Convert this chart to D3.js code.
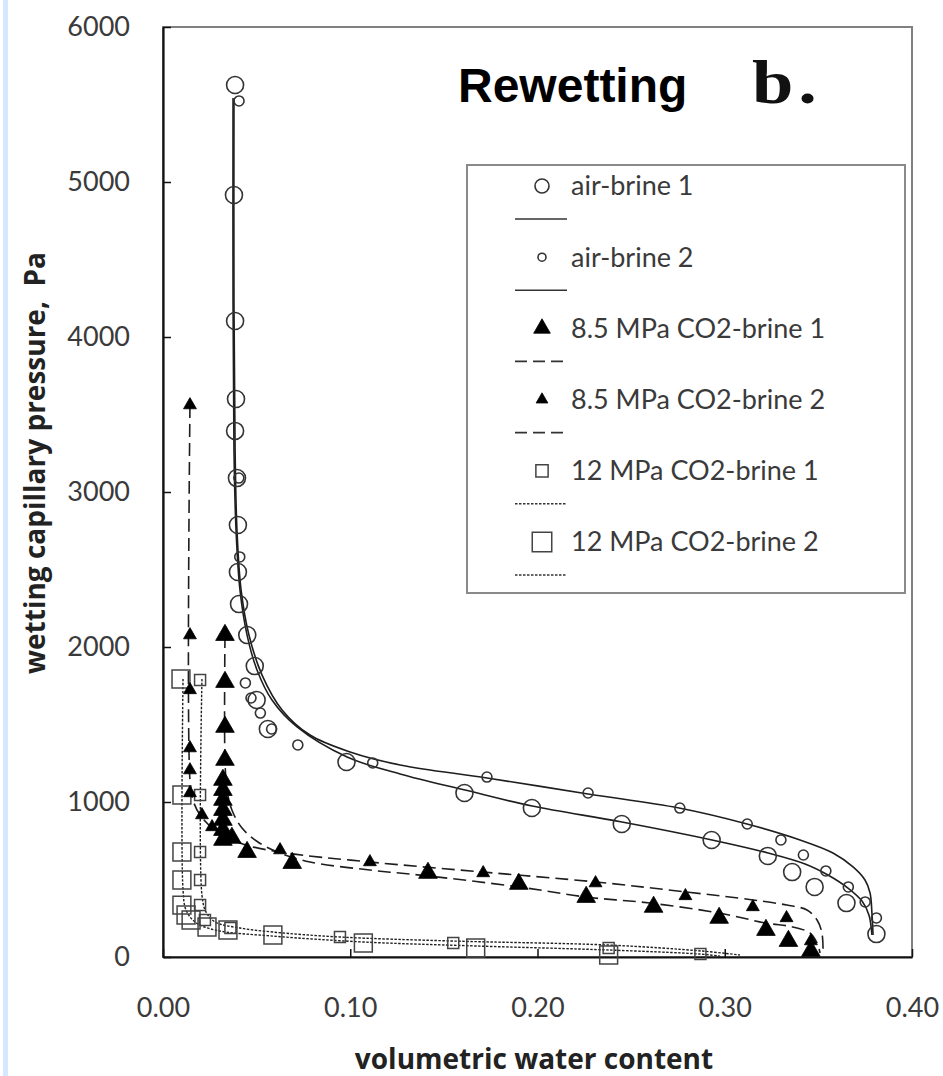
<!DOCTYPE html>
<html lang="en">
<head>
  <meta charset="UTF-8">
  <title>Rewetting b.</title>
  <script src="https://d3js.org/d3.v7.min.js"></script>
  <style>
    body { margin: 0; background: #fff; }
    .tick text { font-family: Lato, "Open Sans", sans-serif; font-size: 27px; fill: #3a3a3a; }
    .axis path, .axis line { stroke: #111; }
    .legend text { font-family: Lato, "Open Sans", sans-serif; font-size: 27px; fill: #3a3a3a; }
    .axis-title { font-family: "Open Sans", Lato, sans-serif; font-weight: bold; font-size: 28px; fill: #222; }
  </style>
</head>
<body>
  <svg width="943" height="1076"></svg>

  <script>
    // measured points, [water content, pressure Pa]
    const airBrine1 = [[0.0385,5626],[0.0379,4916],[0.0385,4103],[0.039,3600],[0.0385,3394],[0.0395,3090],
      [0.040,2787],[0.040,2484],[0.0406,2277],[0.045,2077],[0.049,1877],[0.050,1658],[0.056,1471],
      [0.098,1258],[0.161,1058],[0.197,961],[0.245,858],[0.293,755],[0.323,652],[0.336,548],
      [0.348,452],[0.365,348],[0.381,148]];
    const airBrine2 = [[0.0406,5523],[0.0405,3090],[0.041,2581],[0.044,1768],[0.047,1671],[0.052,1574],
      [0.058,1471],[0.072,1368],[0.112,1252],[0.173,1161],[0.227,1058],[0.276,961],[0.312,858],
      [0.330,755],[0.342,658],[0.354,555],[0.366,452],[0.375,355],[0.381,252]];
    const co2_85_1 = [[0.0331,2077],[0.0331,1774],[0.0331,1484],[0.0331,1271],[0.032,1142],[0.032,1077],
      [0.032,1013],[0.032,948],[0.032,884],[0.032,819],[0.032,755],[0.0368,768],[0.0449,677],
      [0.069,606],[0.1415,542],[0.190,471],[0.226,387],[0.262,323],[0.297,252],[0.322,174],
      [0.334,103],[0.346,39]];
    const co2_85_2 = [[0.0144,3561],[0.0144,2077],[0.0144,1723],[0.0144,1348],[0.0144,1206],[0.0144,1058],
      [0.0208,916],[0.0262,839],[0.0625,690],[0.1105,613],[0.171,542],[0.231,477],[0.279,394],
      [0.315,323],[0.333,252],[0.346,103]];
    const co2_12_1 = [[0.0198,1787],[0.0198,1045],[0.0198,677],[0.0198,497],[0.0198,335],[0.0224,239],
      [0.036,187],[0.0945,129],[0.155,90],[0.238,58],[0.287,19]];
    const co2_12_2 = [[0.0096,1794],[0.0101,1045],[0.0101,677],[0.0101,497],[0.0101,335],[0.0123,271],
      [0.015,239],[0.0235,194],[0.0347,174],[0.0587,142],[0.107,90],[0.167,58],[0.238,13]];

    // fitted curves
    const fitAir1 = [[0.0374,5542],[0.0374,4239],[0.0379,3271],[0.039,2755],[0.0411,2368],[0.0449,2077],
      [0.0502,1852],[0.0582,1658],[0.0716,1484],[0.0983,1290],[0.1266,1181],[0.1613,1077],[0.1971,974],
      [0.2451,871],[0.2932,755],[0.3231,671],[0.3429,600],[0.3551,529],[0.3658,445],[0.3733,361],
      [0.377,271],[0.3786,142]];
    const fitAir2 = [[0.0379,5529],[0.0379,4239],[0.0385,3271],[0.0395,2755],[0.0417,2368],[0.0459,2077],
      [0.0529,1819],[0.0636,1594],[0.0785,1432],[0.0999,1323],[0.1266,1239],[0.173,1155],[0.227,1052],
      [0.2756,961],[0.3119,858],[0.3402,755],[0.3578,671],[0.3685,581],[0.3749,497],[0.3776,413],
      [0.3786,284],[0.3792,142]];
    const fit85_1 = [[0.0331,2077],[0.0331,1271],[0.0342,1077],[0.0368,948],[0.0422,832],[0.0507,742],
      [0.0625,671],[0.0785,613],[0.1105,561],[0.1415,523],[0.1901,452],[0.2259,387],[0.2601,348],
      [0.2969,284],[0.322,219],[0.3364,194],[0.3455,155],[0.3493,90],[0.3509,26]];
    const fit85_2 = [[0.0144,3561],[0.0144,1142],[0.016,1013],[0.0198,916],[0.0278,819],[0.0411,735],
      [0.0625,677],[0.1105,613],[0.1709,548],[0.2312,484],[0.2798,419],[0.3151,368],[0.3332,335],
      [0.3439,303],[0.3493,239],[0.3519,155],[0.3525,45]];
    const fit12_1 = [[0.0208,1794],[0.0208,400],[0.023,290],[0.0278,226],[0.0411,187],[0.0587,161],
      [0.0945,129],[0.1549,103],[0.2382,77],[0.2873,39],[0.3081,13]];
    const fit12_2 = [[0.0107,1794],[0.0107,432],[0.0123,303],[0.0171,226],[0.0278,174],[0.0587,135],
      [0.1068,97],[0.1672,71],[0.2382,45],[0.2868,19],[0.2975,6]];

    const legendLabels = ["air-brine 1", "air-brine 2", "8.5 MPa CO2-brine 1", "8.5 MPa CO2-brine 2",
      "12 MPa CO2-brine 1", "12 MPa CO2-brine 2"];
    const xTicks = [0, 0.1, 0.2, 0.3, 0.4];
    const yTicks = [0, 1000, 2000, 3000, 4000, 5000, 6000];

    const margin = {left: 163, top: 27, right: 31, bottom: 119};
    const width = 943 - margin.left - margin.right;
    const height = 1076 - margin.top - margin.bottom;

    const svg = d3.select("svg");

    // pale blue edge on the left
    svg.append("rect").attr("x", 3).attr("y", 0).attr("width", 5).attr("height", 1076)
        .attr("fill", "#d6e8ff");

    const g = svg.append("g").attr("transform", `translate(${margin.left},${margin.top})`);

    const x = d3.scaleLinear().domain([0, 0.4]).range([0, width]);
    const y = d3.scaleLinear().domain([0, 6000]).range([height, 0]);

    // frame top/right
    g.append("rect").attr("width", width).attr("height", height)
        .attr("fill", "none").attr("stroke", "#808080").attr("stroke-width", 2);

    g.append("g").attr("class", "axis")
        .call(d3.axisLeft(y).tickValues(yTicks).tickFormat(d3.format("d"))
          .tickSize(-8).tickSizeOuter(0).tickPadding(33))
        .call(a => a.select(".domain").attr("stroke-width", 2.2))
        .call(a => a.selectAll(".tick line").attr("stroke-width", 1.5));

    g.append("g").attr("class", "axis").attr("transform", `translate(0,${height})`)
        .call(d3.axisBottom(x).tickValues(xTicks).tickFormat(d3.format(".2f"))
          .tickSize(-8).tickSizeOuter(0).tickPadding(41))
        .call(a => a.select(".domain").attr("stroke-width", 2.2))
        .call(a => a.selectAll(".tick line").attr("stroke-width", 1.5));

    // axis titles
    svg.append("text").attr("class", "axis-title")
        .attr("x", 534).attr("y", 1069).attr("text-anchor", "middle")
        .text("volumetric water content");
    svg.append("text").attr("class", "axis-title")
        .attr("transform", "translate(45,463) rotate(-90)").attr("text-anchor", "middle")
        .style("white-space", "pre")
        .text("wetting capillary pressure,  Pa");

    // title and panel letter
    svg.append("text").attr("x", 458).attr("y", 102)
        .attr("font-family", "'Liberation Sans', Arial, sans-serif").attr("font-weight", "bold")
        .attr("font-size", 48).attr("fill", "#000").text("Rewetting");
    svg.append("text").attr("transform", "translate(752,103) scale(1.2,1)")
        .attr("font-family", "'Liberation Serif', serif").attr("font-weight", "bold")
        .attr("font-size", 62).attr("letter-spacing", 4).attr("fill", "#111").text("b.");

    const line = d3.line().x(d => x(d[0])).y(d => y(d[1])).curve(d3.curveCatmullRom.alpha(0.5));

    const dash = {solid: null, dashed: "13,6", dotted: "2.5,1.5"};
    const fits = [
      {data: fitAir1, style: "solid"}, {data: fitAir2, style: "solid"},
      {data: fit85_1, style: "dashed"}, {data: fit85_2, style: "dashed"},
      {data: fit12_1, style: "dotted"}, {data: fit12_2, style: "dotted"}
    ];

    g.append("g").selectAll("path").data(fits).join("path")
        .attr("d", d => line(d.data))
        .attr("fill", "none").attr("stroke", "#1e1e1e")
        .attr("stroke-width", d => d.style === "dotted" ? 1.4 : 1.6)
        .attr("stroke-dasharray", d => dash[d.style]);

    // marker definitions
    const markers = [
      {type: "circle", r: 8.5, fill: "none"},
      {type: "circle", r: 5, fill: "none"},
      {type: "triangle", size: 150, fill: "#000"},
      {type: "triangle", size: 72, fill: "#000"},
      {type: "square", size: 121, fill: "none"},
      {type: "square", size: 320, fill: "none"}
    ];
    const series = [airBrine1, airBrine2, co2_85_1, co2_85_2, co2_12_1, co2_12_2];

    function drawMarker(sel, m) {
      if (m.type === "circle") {
        sel.append("circle").attr("r", m.r).attr("fill", "none")
          .attr("stroke", "#333").attr("stroke-width", 1.6);
      } else if (m.type === "triangle") {
        sel.append("path").attr("d", d3.symbol(d3.symbolTriangle, m.size)())
          .attr("fill", m.fill).attr("stroke", "#000").attr("stroke-width", 0.8);
      } else {
        sel.append("path").attr("d", d3.symbol(d3.symbolSquare, m.size)())
          .attr("fill", "none").attr("stroke", "#444").attr("stroke-width", 1.5);
      }
    }

    // squares first, then triangles, circles on top
    [4, 5, 3, 2, 1, 0].forEach(i => {
      g.append("g").selectAll("g").data(series[i]).join("g")
          .attr("transform", d => `translate(${x(d[0])},${y(d[1])})`)
          .each(function() { drawMarker(d3.select(this), markers[i]); });
    });

    // legend
    const legend = svg.append("g").attr("class", "legend");
    legend.append("rect").attr("x", 467).attr("y", 165).attr("width", 438).attr("height", 428)
        .attr("fill", "#fff").attr("stroke", "#8a8a8a").attr("stroke-width", 2);

    const legendMarkers = [
      {type: "circle", r: 7, fill: "none"},
      {type: "circle", r: 4, fill: "none"},
      {type: "triangle", size: 120, fill: "#000"},
      {type: "triangle", size: 60, fill: "#000"},
      {type: "square", size: 150, fill: "none"},
      {type: "square", size: 380, fill: "none"}
    ];
    const legendStyles = ["solid", "solid", "dashed", "dashed", "dotted", "dotted"];

    legendLabels.forEach((label, i) => {
      const cy = 186 + i * 71.2;
      const row = legend.append("g");
      row.append("g").attr("transform", `translate(542,${cy})`)
          .call(s => drawMarker(s, legendMarkers[i]));
      row.append("text").attr("x", 571).attr("y", cy).attr("dy", "0.35em").text(label);
      row.append("line").attr("x1", 515).attr("x2", 567).attr("y1", cy + 33).attr("y2", cy + 33)
          .attr("stroke", "#333").attr("stroke-width", 1.6)
          .attr("stroke-dasharray", legendStyles[i] === "dashed" ? "12,6" : dash[legendStyles[i]]);
    });
  </script>
</body>
</html>
